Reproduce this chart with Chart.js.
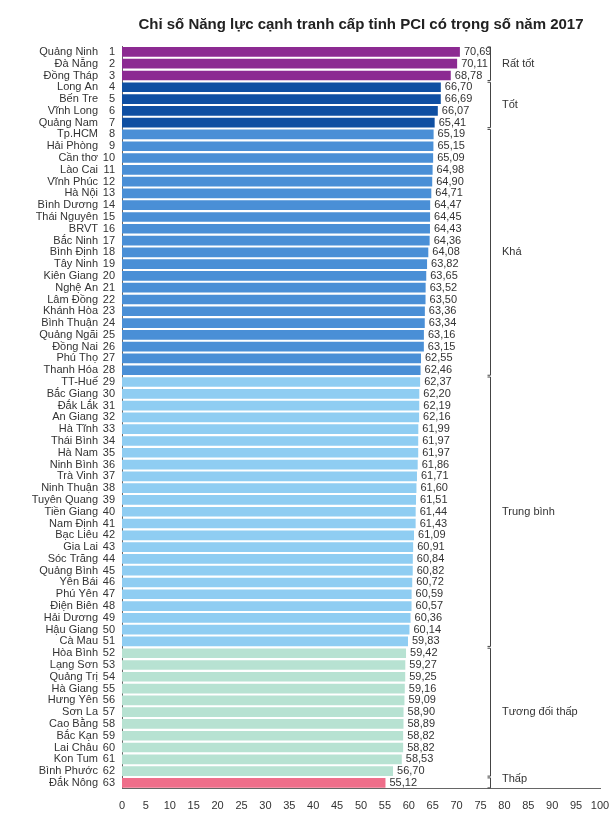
<!DOCTYPE html>
<html><head><meta charset="utf-8">
<script src="https://cdn.jsdelivr.net/npm/chart.js@4"></script>
<style>body{margin:0;background:#fff}#wrap{width:615px;height:820px}</style>
</head><body><div id="wrap"><canvas id="c"></canvas></div>
<script>
const provinces = ['Quảng Ninh','Đà Nẵng','Đồng Tháp','Long An','Bến Tre','Vĩnh Long','Quảng Nam','Tp.HCM','Hải Phòng','Cần thơ','Lào Cai','Vĩnh Phúc','Hà Nội','Bình Dương','Thái Nguyên','BRVT','Bắc Ninh','Bình Định','Tây Ninh','Kiên Giang','Nghệ An','Lâm Đồng','Khánh Hòa','Bình Thuận','Quảng Ngãi','Đồng Nai','Phú Thọ','Thanh Hóa','TT-Huế','Bắc Giang','Đắk Lắk','An Giang','Hà Tĩnh','Thái Bình','Hà Nam','Ninh Bình','Trà Vinh','Ninh Thuận','Tuyên Quang','Tiền Giang','Nam Định','Bạc Liêu','Gia Lai','Sóc Trăng','Quảng Bình','Yên Bái','Phú Yên','Điện Biên','Hải Dương','Hậu Giang','Cà Mau','Hòa Bình','Lạng Sơn','Quảng Trị','Hà Giang','Hưng Yên','Sơn La','Cao Bằng','Bắc Kạn','Lai Châu','Kon Tum','Bình Phước','Đắk Nông'];
const scores = [70.69,70.11,68.78,66.70,66.69,66.07,65.41,65.19,65.15,65.09,64.98,64.90,64.71,64.47,64.45,64.43,64.36,64.08,63.82,63.65,63.52,63.50,63.36,63.34,63.16,63.15,62.55,62.46,62.37,62.20,62.19,62.16,61.99,61.97,61.97,61.86,61.71,61.60,61.51,61.44,61.43,61.09,60.91,60.84,60.82,60.72,60.59,60.57,60.36,60.14,59.83,59.42,59.27,59.25,59.16,59.09,58.90,58.89,58.82,58.82,58.53,56.70,55.12];
const groupNames = ['Rất tốt','Tốt','Khá','Trung bình','Tương đối thấp','Thấp'];
const groupFirst = [1,4,8,29,52,63];
const groupLast = [3,7,28,51,62,63];
const groupColors = ['#8c2a92','#0f4fa2','#4a8fd6','#8fcdf2','#b7e2d2','#ef6e8a'];
const xTicks = [0,5,10,15,20,25,30,35,40,45,50,55,60,65,70,75,80,85,90,95,100];

const colorFor = i => { const r=i+1; for (let g=0; g<groupFirst.length; g++) if (r>=groupFirst[g] && r<=groupLast[g]) return groupColors[g]; };

const decor = {
  id: 'decor',
  afterDatasetsDraw(chart) {
    const {ctx, scales:{x,y}} = chart;
    ctx.save();
    ctx.font = '11px "Liberation Sans", Arial, sans-serif';
    ctx.fillStyle = '#333';
    ctx.textBaseline = 'middle';
    provinces.forEach((p,i) => {
      const py = y.getPixelForValue(i);
      ctx.textAlign = 'right';
      ctx.fillText(p, 98, py);
      ctx.fillText(String(i+1), 115, py);
      ctx.textAlign = 'left';
      ctx.fillText(scores[i].toFixed(2).replace('.',','), x.getPixelForValue(scores[i]) + 4, py);
    });
    ctx.strokeStyle = '#444'; ctx.lineWidth = 1;
    groupNames.forEach((g,k) => {
      const t = y.getPixelForValue(groupFirst[k]-1) - 5, b = y.getPixelForValue(groupLast[k]-1) + 5;
      const bx = 490.5;
      ctx.beginPath();
      ctx.moveTo(bx-3,t); ctx.lineTo(bx,t); ctx.lineTo(bx,b); ctx.lineTo(bx-3,b);
      ctx.stroke();
      ctx.textAlign = 'left';
      ctx.fillText(g, 502, (t+b)/2 - (k==5?4:0));
    });
    ctx.restore();
  }
};

new Chart(document.getElementById('c'), {
  type: 'bar',
  data: { labels: provinces, datasets: [{ data: scores, backgroundColor: scores.map((v,i)=>colorFor(i)), barPercentage: 0.82, categoryPercentage: 1 }] },
  options: {
    indexAxis: 'y', responsive: true, maintainAspectRatio: false, animation: false,
    layout: { padding: { left: 122, right: 15, bottom: 4 } },
    plugins: {
      legend: { display: false }, tooltip: { enabled: false },
      title: { display: true, text: 'Chỉ số Năng lực cạnh tranh cấp tỉnh PCI có trọng số năm 2017', color: '#222', font: { family: '"Liberation Sans", Arial', size: 15, weight: 'bold' }, padding: { top: 16, bottom: 12 } }
    },
    scales: {
      x: { min: 0, max: 100, afterBuildTicks: s => { s.ticks = xTicks.map(v=>({value:v})); },
           grid: { display: false, drawTicks: true }, border: { color: '#666' },
           ticks: { color: '#333', font: { family: '"Liberation Sans", Arial', size: 11 }, autoSkip: false, maxRotation: 0 } },
      y: { ticks: { display: false }, grid: { display: false }, border: { color: '#666' }, afterFit: s => { s.width = 0; } }
    }
  },
  plugins: [decor]
});
</script></body></html>
